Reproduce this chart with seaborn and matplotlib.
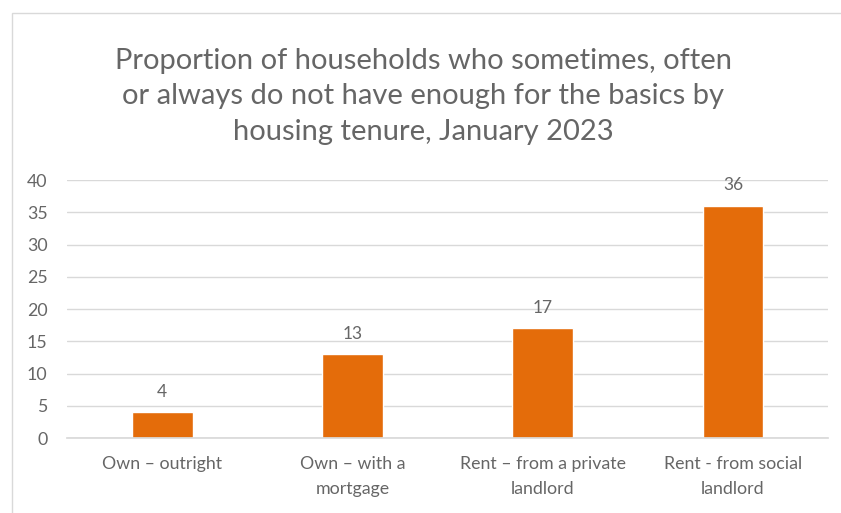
import matplotlib
matplotlib.use("Agg")
import matplotlib.pyplot as plt
import seaborn as sns
import pandas as pd
from matplotlib.patches import Rectangle

categories = ["Own \u2013 outright", "Own \u2013 with a\nmortgage",
              "Rent \u2013 from a private\nlandlord", "Rent - from social\nlandlord"]
values = [4, 13, 17, 36]
yticks = [0, 5, 10, 15, 20, 25, 30, 35, 40]
title = ("Proportion of households who sometimes, often\n"
         "or always do not have enough for the basics by\n"
         "housing tenure, January 2023")

sns.set_theme(style="white")
plt.rcParams["font.family"] = ["Lato", "DejaVu Sans"]

df = pd.DataFrame({"tenure": categories, "pct": values})

fig = plt.figure(figsize=(8.41, 5.13), dpi=100)
ax = fig.add_axes([0.0797, 0.146, 0.905, 0.503])

sns.barplot(data=df, x="tenure", y="pct", color="#E46C0A", width=0.32,
            saturation=1, ax=ax)

text_col = "#666666"
ax.set_ylim(0, 40)
ax.set_yticks(yticks)
ax.yaxis.grid(True, color="#D9D9D9", linewidth=1)
ax.set_axisbelow(True)
for s in ["top", "right", "left"]:
    ax.spines[s].set_visible(False)
ax.spines["bottom"].set_color("#D9D9D9")
ax.set_xlabel("")
ax.set_ylabel("")
ax.tick_params(axis="both", length=0, labelsize=12.8, labelcolor=text_col)
ax.tick_params(axis="y", pad=14)
ax.tick_params(axis="x", pad=13)
for lbl in ax.get_xticklabels():
    lbl.set_linespacing(1.7)

for c in ax.containers:
    ax.bar_label(c, labels=[str(v) for v in values], padding=9,
                 fontsize=12.5, color=text_col)

fig.text(0.503, 0.812, title, ha="center", va="center", fontsize=21,
         color=text_col, linespacing=1.45)

fig.patches.append(Rectangle((12 / 841, -0.1), 1.0, 1 - 13 / 513 + 0.1,
                             transform=fig.transFigure, fill=False,
                             edgecolor="#D9D9D9", linewidth=1))

fig.savefig("out.png", dpi=100)
